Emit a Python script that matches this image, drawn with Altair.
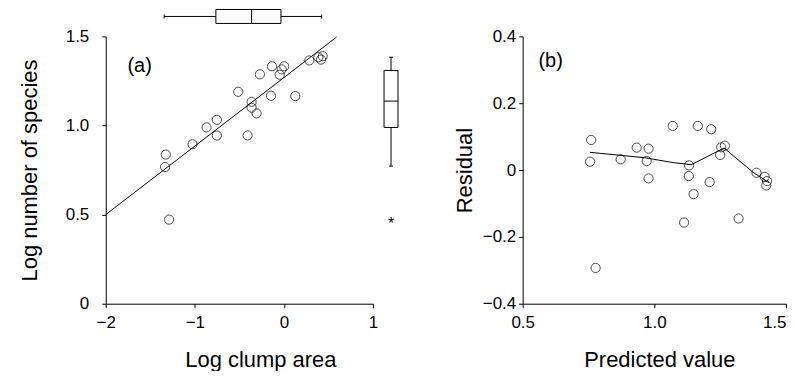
import altair as alt
import pandas as pd

# ---------------- Panel (a): species-area data ----------------
area_x = [-1.326, -1.334, -1.289, -1.026, -0.869, -0.753, -0.753, -0.513, -0.408,
          -0.363, -0.363, -0.307, -0.270, -0.146, -0.135, -0.048, -0.026, 0.003,
          0.127, 0.284, 0.386, 0.416, 0.435]
species_y = [0.837, 0.767, 0.472, 0.895, 0.989, 1.032, 0.944, 1.189, 0.944,
             1.133, 1.100, 1.068, 1.287, 1.167, 1.332, 1.285, 1.315, 1.332,
             1.165, 1.365, 1.383, 1.370, 1.389]
fit_x = [-2.0, 0.59]
fit_y = [0.5, 1.496]

# marginal boxplot summaries (lo whisker, Q1, median, Q3, hi whisker)
area_box = [-1.345, -0.764, -0.363, -0.034, 0.424]
species_box = [0.772, 0.989, 1.137, 1.309, 1.383]
species_outlier = [0.467]

# ---------------- Panel (b): residuals ----------------
pred_x = [0.760, 0.756, 0.777, 0.872, 0.933, 0.978, 0.971, 0.978, 1.070, 1.132,
          1.131, 1.149, 1.113, 1.165, 1.216, 1.210, 1.250, 1.254, 1.268, 1.320,
          1.388, 1.419, 1.425, 1.428]
resid_y = [0.090, 0.025, -0.293, 0.032, 0.067, 0.064, 0.027, -0.025, 0.132, 0.014,
           -0.018, -0.072, -0.157, 0.132, 0.122, -0.036, 0.045, 0.068, 0.073, -0.145,
           -0.008, -0.020, -0.046, -0.033]
smooth_x = [0.756, 0.962, 1.074, 1.140, 1.265, 1.372, 1.435]
smooth_y = [0.053, 0.037, 0.022, 0.016, 0.066, -0.005, -0.038]

FONT = "Liberation Sans"
W = H = 268
WB = 264

# ---------- shared encodings for panel (a) ----------
ax_a_x = alt.Axis(values=[-2, -1, 0, 1], format="d", title="Log clump area",
                  tickSize=4, labelPadding=7, titlePadding=19, titleX=155,
                  labelFlush=False)
ax_a_y = alt.Axis(values=[0, 0.5, 1.0, 1.5],
                  labelExpr="datum.value == 0 ? '0' : format(datum.value, '.1f')",
                  title="Log number of species", tickSize=4, labelPadding=13,
                  titlePadding=24)
sc_a_x = alt.Scale(domain=[-2, 1], nice=False, zero=False)
sc_a_y = alt.Scale(domain=[0, 1.5], nice=False, zero=False)


def xa(f):
    return alt.X(f, type="quantitative", scale=sc_a_x, axis=ax_a_x)


def ya(f):
    return alt.Y(f, type="quantitative", scale=sc_a_y, axis=ax_a_y)


df_a = pd.DataFrame({"area": area_x, "species": species_y})
df_fit = pd.DataFrame({"area": fit_x, "species": fit_y})
keys = ["lo", "q1", "med", "q3", "hi"]
df_abox = pd.DataFrame([dict(zip(keys, area_box))])
df_sbox = pd.DataFrame([dict(zip(keys, species_box))])
df_out = pd.DataFrame({"v": species_outlier})

pts_a = alt.Chart(df_a).mark_point(shape="circle", filled=False, color="black",
                                   size=85, strokeWidth=1).encode(
    x=xa("area"), y=ya("species"))
fit_a = alt.Chart(df_fit).mark_line(color="black", strokeWidth=1).encode(
    x=xa("area"), y=ya("species"))
lab_a = alt.Chart(pd.DataFrame({"t": ["(a)"]})).mark_text(
    font=FONT, fontSize=20, color="black").encode(
    x=alt.value(34), y=alt.value(30), text="t:N")

# top marginal boxplot (x distribution)
tb = alt.Chart(df_abox)
top_rect = tb.mark_rect(fill="white", stroke="black", strokeWidth=1).encode(
    x=xa("q1"), x2="q3", y=alt.value(-27), y2=alt.value(-13))
top_w1 = tb.mark_rule(color="black", strokeWidth=1).encode(
    x=xa("lo"), x2="q1", y=alt.value(-20))
top_w2 = tb.mark_rule(color="black", strokeWidth=1).encode(
    x=xa("q3"), x2="hi", y=alt.value(-20))
top_med = tb.mark_rule(color="black", strokeWidth=1).encode(
    x=xa("med"), y=alt.value(-27), y2=alt.value(-13))
top_c1 = tb.mark_rule(color="black", strokeWidth=1).encode(
    x=xa("lo"), y=alt.value(-22), y2=alt.value(-18))
top_c2 = tb.mark_rule(color="black", strokeWidth=1).encode(
    x=xa("hi"), y=alt.value(-22), y2=alt.value(-18))

# right marginal boxplot (y distribution)
rb = alt.Chart(df_sbox)
r_rect = rb.mark_rect(fill="white", stroke="black", strokeWidth=1).encode(
    y=ya("q1"), y2="q3", x=alt.value(279), x2=alt.value(293))
r_w1 = rb.mark_rule(color="black", strokeWidth=1).encode(
    y=ya("lo"), y2="q1", x=alt.value(286))
r_w2 = rb.mark_rule(color="black", strokeWidth=1).encode(
    y=ya("q3"), y2="hi", x=alt.value(286))
r_med = rb.mark_rule(color="black", strokeWidth=1).encode(
    y=ya("med"), x=alt.value(279), x2=alt.value(293))
r_c1 = rb.mark_rule(color="black", strokeWidth=1).encode(
    y=ya("lo"), x=alt.value(284), x2=alt.value(288))
r_c2 = rb.mark_rule(color="black", strokeWidth=1).encode(
    y=ya("hi"), x=alt.value(284), x2=alt.value(288))
r_out = alt.Chart(df_out).mark_text(text="*", font=FONT, fontSize=16,
                                    color="black", dy=4).encode(
    y=ya("v"), x=alt.value(286))

panel_a = alt.layer(fit_a, pts_a, lab_a,
                    top_rect, top_w1, top_w2, top_med, top_c1, top_c2,
                    r_rect, r_w1, r_w2, r_med, r_c1, r_c2, r_out
                    ).properties(width=W, height=H)

# ---------- panel (b) ----------
ax_b_x = alt.Axis(values=[0.5, 1.0, 1.5], format=".1f", title="Predicted value",
                  tickSize=4, labelPadding=7, titlePadding=19, labelFlush=False,
                  titleX=137,
                  labelAlign={"condition": {"test": "datum.value >= 1.49",
                                            "value": "right"},
                              "value": "center"})
ax_b_y = alt.Axis(values=[-0.4, -0.2, 0, 0.2, 0.4],
                  labelExpr="datum.value == 0 ? '0' : format(datum.value, '.1f')",
                  title="Residual", tickSize=4, labelPadding=3, titlePadding=6)
sc_b_x = alt.Scale(domain=[0.5, 1.5], nice=False, zero=False)
sc_b_y = alt.Scale(domain=[-0.4, 0.4], nice=False, zero=False)


def xb(f):
    return alt.X(f, type="quantitative", scale=sc_b_x, axis=ax_b_x)


def yb(f):
    return alt.Y(f, type="quantitative", scale=sc_b_y, axis=ax_b_y)


df_b = pd.DataFrame({"pred": pred_x, "resid": resid_y})
df_sm = pd.DataFrame({"pred": smooth_x, "resid": smooth_y})

pts_b = alt.Chart(df_b).mark_point(shape="circle", filled=False, color="black",
                                   size=85, strokeWidth=1).encode(
    x=xb("pred"), y=yb("resid"))
sm_b = alt.Chart(df_sm).mark_line(color="black", strokeWidth=1).encode(
    x=xb("pred"), y=yb("resid"))
lab_b = alt.Chart(pd.DataFrame({"t": ["(b)"]})).mark_text(
    font=FONT, fontSize=20, color="black").encode(
    x=alt.value(28), y=alt.value(25), text="t:N")

panel_b = alt.layer(sm_b, pts_b, lab_b).properties(width=WB, height=H)

chart = alt.hconcat(panel_a, panel_b, spacing=150, bounds="flush").properties(
    padding={"left": 10, "top": 0, "right": 0, "bottom": 0},
    background="white",
).configure_view(stroke=None).configure_axis(
    grid=False, domainColor="black", tickColor="black", labelColor="black",
    titleColor="black", labelFont=FONT, titleFont=FONT, labelFontSize=17,
    titleFontSize=22, titleFontWeight="normal", domainWidth=1, tickWidth=1,
)

chart.save("out.html", embed_options={"renderer": "svg", "actions": False})
